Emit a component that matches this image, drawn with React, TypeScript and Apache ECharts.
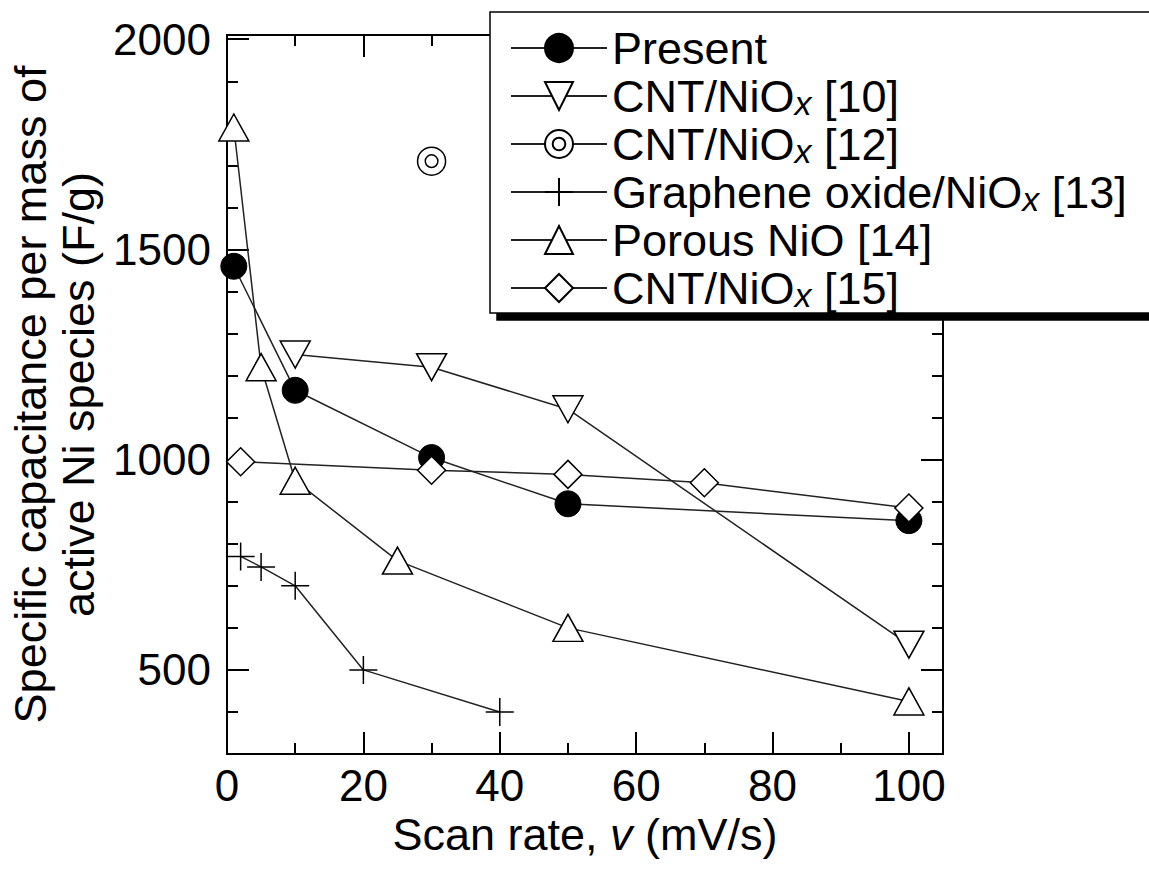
import React, { useEffect, useRef } from 'react';
import * as echarts from 'echarts';

const FONT = 'Liberation Sans, Arial, Helvetica, sans-serif';

const seriesNames = [
  'Present',
  'CNT/NiOx [10]',
  'CNT/NiOx [12]',
  'Graphene oxide/NiOx [13]',
  'Porous NiO [14]',
  'CNT/NiOx [15]',
];

const presentX = [1, 10, 30, 50, 100];
const presentY = [1460, 1165, 1005, 895, 855];
const cnt10X = [10, 30, 50, 100];
const cnt10Y = [1250, 1220, 1120, 560];
const cnt12X = [30];
const cnt12Y = [1710];
const grapheneX = [2, 5, 10, 20, 40];
const grapheneY = [770, 745, 700, 500, 400];
const porousX = [1, 5, 10, 25, 50, 100];
const porousY = [1790, 1220, 950, 760, 600, 425];
const cnt15X = [2, 30, 50, 70, 100];
const cnt15Y = [995, 975, 965, 945, 885];

const xMajorTicks = [0, 20, 40, 60, 80, 100];
const xMinorTicks = [10, 30, 50, 70, 90];
const yMajorTicks = [500, 1000, 1500, 2000];
const yMinorTicks = [400, 600, 700, 800, 900, 1100, 1200, 1300, 1400, 1600, 1700, 1800, 1900];

const X_MIN = 0;
const X_MAX = 105;
const Y_MIN = 300;
const Y_MAX = 2010;

const PLUS = 'path://M10,0 L10,20 M0,10 L20,10';
const BULLSEYE =
  'path://M0,10 A10,10 0 1 1 20,10 A10,10 0 1 1 0,10 Z M5.5,10 A4.5,4.5 0 1 1 14.5,10 A4.5,4.5 0 1 1 5.5,10 Z';

const zip = (xs: number[], ys: number[]) => xs.map((x, i) => [x, ys[i]]);

export default function App() {
  const ref = useRef<HTMLDivElement>(null);

  useEffect(() => {
    if (!ref.current) return;
    const chart = echarts.init(ref.current, null, { renderer: 'svg' });

    const tickStyle = { color: '#000', width: 2 };
    const xAx = (position: string, ticks: number[], len: number, extra: any = {}) => ({
      type: 'value',
      min: X_MIN,
      max: X_MAX,
      position,
      splitLine: { show: false },
      axisLine: { show: false, onZero: false },
      axisTick: { show: true, inside: true, length: len, customValues: ticks, lineStyle: tickStyle },
      axisLabel: { show: false },
      ...extra,
    });
    const yAx = (position: string, ticks: number[], len: number, extra: any = {}) => ({
      type: 'value',
      min: Y_MIN,
      max: Y_MAX,
      position,
      splitLine: { show: false },
      axisLine: { show: false, onZero: false },
      axisTick: { show: true, inside: true, length: len, customValues: ticks, lineStyle: tickStyle },
      axisLabel: { show: false },
      ...extra,
    });

    const lineStyle = { color: '#222', width: 1.5 };
    const openItem = { color: '#fff', borderColor: '#000', borderWidth: 1.5 };

    const mk = (name: string, data: number[][], symbol: string, size: any, item: any, extra: any = {}) => ({
      type: 'line',
      name,
      data,
      symbol,
      symbolSize: size,
      showAllSymbol: true,
      lineStyle,
      itemStyle: item,
      z: 3,
      ...extra,
    });

    chart.setOption({
      animation: false,
      backgroundColor: '#fff',
      textStyle: { fontFamily: FONT },
      grid: {
        left: 227,
        right: 206,
        top: 35,
        bottom: 118,
        show: true,
        borderColor: '#000',
        borderWidth: 2,
        backgroundColor: 'transparent',
        containLabel: false,
        outerBoundsMode: 'none',
      },
      legend: {
        orient: 'vertical',
        left: 490,
        top: 12,
        padding: [12, 60, 1, 20],
        itemGap: 0,
        itemWidth: 96,
        itemHeight: 35,
        backgroundColor: '#fff',
        borderColor: '#000',
        borderWidth: 1.5,
        shadowColor: '#000',
        shadowBlur: 0,
        shadowOffsetX: 7,
        shadowOffsetY: 7,
        selectedMode: false,
        data: seriesNames,
        formatter: (name: string) => name.replace('NiOx', 'NiO{sub|x}'),
        textStyle: {
          fontFamily: FONT,
          fontSize: 45,
          lineHeight: 48,
          color: '#000',
          rich: {
            sub: {
              fontFamily: FONT,
              fontSize: 34,
              fontStyle: 'italic',
              lineHeight: 28,
              padding: [14, 0, 0, 0],
              color: '#000',
            },
          },
        },
      },
      xAxis: [
        xAx('bottom', xMajorTicks, 22, {
          axisLabel: {
            show: true,
            customValues: xMajorTicks,
            fontSize: 44,
            color: '#000',
            margin: 9,
            fontFamily: FONT,
            formatter: (v: number) => String(v),
          },
          name: 'Scan rate, {i|v} (mV/s)',
          nameLocation: 'middle',
          nameGap: 44,
          nameTextStyle: {
            fontSize: 45,
            color: '#000',
            fontFamily: FONT,
            lineHeight: 45,
            rich: { i: { fontStyle: 'italic', fontSize: 45, fontFamily: FONT, color: '#000', lineHeight: 45 } },
          },
        }),
        xAx('bottom', xMinorTicks, 11),
        xAx('top', xMajorTicks, 22),
        xAx('top', xMinorTicks, 11),
      ],
      yAxis: [
        yAx('left', yMajorTicks, 22, {
          axisLabel: {
            show: true,
            customValues: yMajorTicks,
            fontSize: 44,
            color: '#000',
            margin: 16,
            padding: [0, 0, 8, 0],
            fontFamily: FONT,
            formatter: (v: number) => String(v),
          },
          name: 'Specific capacitance per mass of\nactive Ni species (F/g)',
          nameLocation: 'middle',
          nameGap: 91,
          nameTextStyle: { fontSize: 45, lineHeight: 48, color: '#000', fontFamily: FONT, align: 'center' },
        }),
        yAx('left', yMinorTicks, 11),
        yAx('right', yMajorTicks, 22),
        yAx('right', yMinorTicks, 11),
      ],
      series: [
        mk(seriesNames[0], zip(presentX, presentY), 'circle', 26, { color: '#000', borderColor: '#000', borderWidth: 1 }),
        mk(seriesNames[1], zip(cnt10X, cnt10Y), 'triangle', [30, 27], openItem, { symbolRotate: 180 }),
        mk(seriesNames[2], zip(cnt12X, cnt12Y), BULLSEYE, 28, openItem),
        mk(seriesNames[3], zip(grapheneX, grapheneY), PLUS, 28, openItem),
        mk(seriesNames[4], zip(porousX, porousY), 'triangle', [30, 27], openItem),
        mk(seriesNames[5], zip(cnt15X, cnt15Y), 'diamond', 28, openItem),
      ],
    });

    return () => chart.dispose();
  }, []);

  return (
    <div
      ref={ref}
      style={{ position: 'absolute', left: 0, top: 0, width: 1149, height: 872 }}
    />
  );
}
